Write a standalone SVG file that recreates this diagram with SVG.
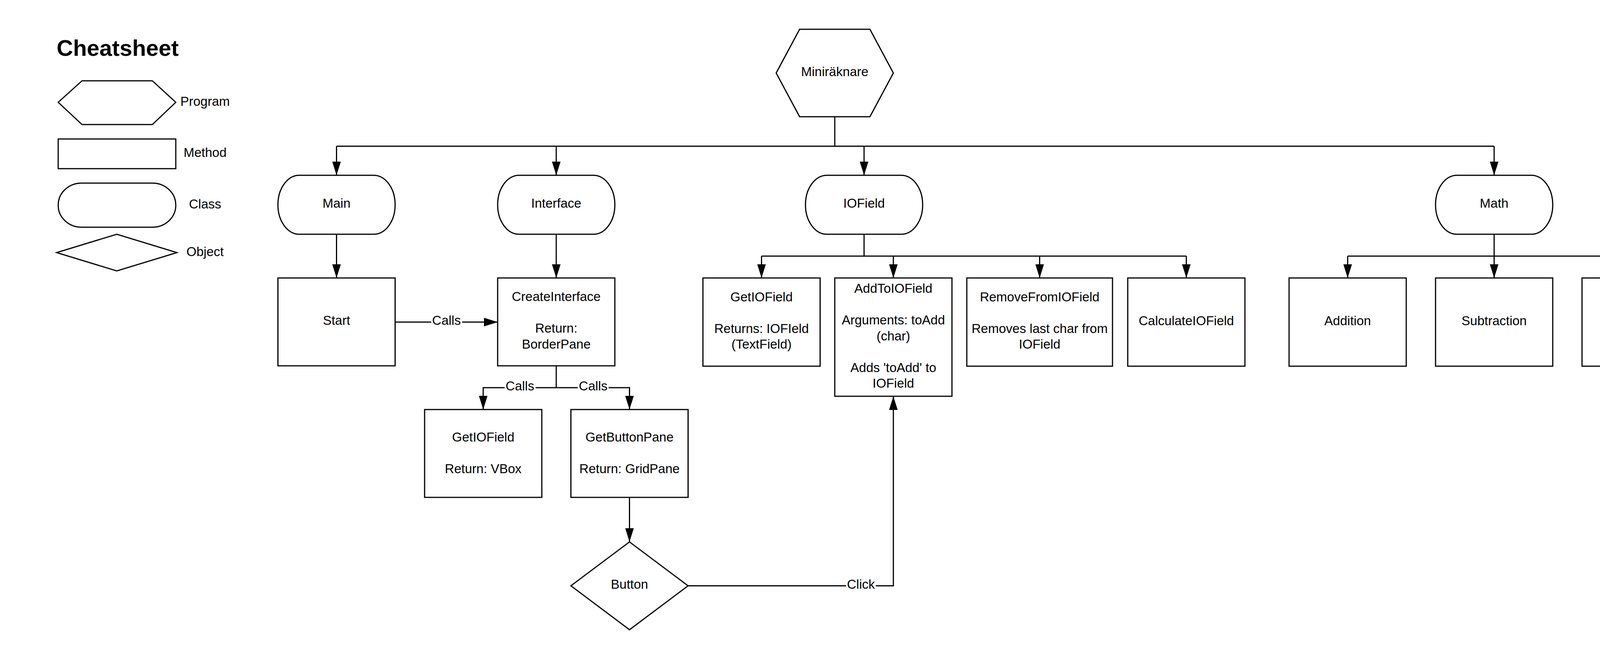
<svg xmlns="http://www.w3.org/2000/svg" width="5175" height="1688" viewBox="0 0 5175 1688">
<style>
.s{fill:#fff;stroke:#000;stroke-width:3}
.c{fill:none;stroke:#000;stroke-width:3}
text{font-family:"Liberation Sans",Arial,sans-serif;font-size:33px;fill:#000}
.m{text-anchor:middle}
.t{font-size:58px;font-weight:bold}
.bg{fill:#fff;stroke:none}
</style>
<defs>
<marker id="ah" markerUnits="userSpaceOnUse" markerWidth="36" markerHeight="22" refX="35" refY="11" orient="auto">
<path d="M0,0 L35,11 L0,22 z" fill="#000"/>
</marker>
</defs>
<rect width="5175" height="1688" fill="#fff"/>

<g id="legend">
<text class="t" x="145" y="143">Cheatsheet</text>
<polygon class="s" points="149,262 210,207 390,207 450,262 390,319 210,319"/>
<text class="m" x="525" y="271">Program</text>
<rect class="s" x="149" y="356" width="301" height="76"/>
<text class="m" x="525" y="402">Method</text>
<rect class="s" x="149" y="469" width="301" height="113" rx="60" ry="56"/>
<text class="m" x="525" y="534">Class</text>
<polygon class="s" points="145,647 299,600 453,647 299,694"/>
<text class="m" x="525" y="656">Object</text>
</g>

<g id="connectors">
<path class="c" d="M2137,299 V374.5"/>
<path class="c" d="M861.5,374.5 H3825"/>
<path class="c" d="M861.5,374.5 V449" marker-end="url(#ah)"/>
<path class="c" d="M1424,374.5 V449" marker-end="url(#ah)"/>
<path class="c" d="M2212,374.5 V449" marker-end="url(#ah)"/>
<path class="c" d="M3825,374.5 V449" marker-end="url(#ah)"/>
<path class="c" d="M861.5,600 V712" marker-end="url(#ah)"/>
<path class="c" d="M1424,600 V712" marker-end="url(#ah)"/>
<path class="c" d="M1011.5,825 H1274" marker-end="url(#ah)"/>
<rect class="bg" x="1104" y="806" width="79" height="36"/>
<text class="m" x="1143" y="832">Calls</text>
<path class="c" d="M1424,937 V993"/>
<path class="c" d="M1424,993 H1237 V1049" marker-end="url(#ah)"/>
<path class="c" d="M1424,993 H1611.5 V1049" marker-end="url(#ah)"/>
<rect class="bg" x="1292" y="974" width="79" height="36"/>
<text class="m" x="1331" y="1000">Calls</text>
<rect class="bg" x="1479" y="974" width="79" height="36"/>
<text class="m" x="1518.5" y="1000">Calls</text>
<path class="c" d="M1611.5,1274 V1388" marker-end="url(#ah)"/>
<path class="c" d="M1761.5,1500.5 H2287 V1015" marker-end="url(#ah)"/>
<rect class="bg" x="2166" y="1482" width="76" height="36"/>
<text class="m" x="2204" y="1508">Click</text>
<path class="c" d="M2212,600 V656"/>
<path class="c" d="M1949.5,656 H3037"/>
<path class="c" d="M1949.5,656 V712" marker-end="url(#ah)"/>
<path class="c" d="M2287,656 V712" marker-end="url(#ah)"/>
<path class="c" d="M2661.5,656 V712" marker-end="url(#ah)"/>
<path class="c" d="M3037,656 V712" marker-end="url(#ah)"/>
<path class="c" d="M3825,600 V656"/>
<path class="c" d="M3450,656 H4950"/>
<path class="c" d="M3450,656 V712" marker-end="url(#ah)"/>
<path class="c" d="M3825,656 V712" marker-end="url(#ah)"/>
<path class="c" d="M4200,656 V712" marker-end="url(#ah)"/>
<path class="c" d="M4575,656 V712" marker-end="url(#ah)"/>
<path class="c" d="M4950,656 V712" marker-end="url(#ah)"/>
</g>

<g id="miniraknare">
<polygon class="s" points="1987,187 2047,75 2227,75 2287,187 2227,299 2047,299"/>
<text class="m" x="2137" y="195">Miniräknare</text>
</g>

<g id="main">
<rect class="s" x="711.5" y="449" width="300" height="151" rx="55" ry="75"/>
<text class="m" x="861.5" y="532">Main</text>
</g>
<g id="interface">
<rect class="s" x="1274" y="449" width="300" height="151" rx="55" ry="75"/>
<text class="m" x="1424" y="532">Interface</text>
</g>
<g id="iofield">
<rect class="s" x="2062" y="449" width="300" height="151" rx="55" ry="75"/>
<text class="m" x="2212" y="532">IOField</text>
</g>
<g id="math">
<rect class="s" x="3675" y="449" width="300" height="151" rx="55" ry="75"/>
<text class="m" x="3825" y="532">Math</text>
</g>

<g id="start">
<rect class="s" x="711.5" y="712" width="300" height="225"/>
<text class="m" x="861.5" y="832">Start</text>
</g>
<g id="createinterface">
<rect class="s" x="1274" y="712" width="300" height="225"/>
<text class="m" x="1424" y="771">CreateInterface</text>
<text class="m" x="1424" y="852">Return:</text>
<text class="m" x="1424" y="893">BorderPane</text>
</g>
<g id="getiofield-interface">
<rect class="s" x="1087" y="1049" width="300" height="225"/>
<text class="m" x="1237" y="1131">GetIOField</text>
<text class="m" x="1237" y="1212">Return: VBox</text>
</g>
<g id="getbuttonpane">
<rect class="s" x="1461.5" y="1049" width="300" height="225"/>
<text class="m" x="1611.5" y="1131">GetButtonPane</text>
<text class="m" x="1611.5" y="1212">Return: GridPane</text>
</g>
<g id="button">
<polygon class="s" points="1461.5,1500.5 1611.5,1388 1761.5,1500.5 1611.5,1613"/>
<text class="m" x="1611.5" y="1508">Button</text>
</g>

<g id="getiofield">
<rect class="s" x="1799.5" y="712" width="300" height="226"/>
<text class="m" x="1949.5" y="772">GetIOField</text>
<text class="m" x="1949.5" y="853">Returns: IOFIeld</text>
<text class="m" x="1949.5" y="893">(TextField)</text>
</g>
<g id="addtoiofield">
<rect class="s" x="2137" y="712" width="300" height="303"/>
<text class="m" x="2287" y="750">AddToIOField</text>
<text class="m" x="2287" y="831">Arguments: toAdd</text>
<text class="m" x="2287" y="872">(char)</text>
<text class="m" x="2287" y="953">Adds 'toAdd' to</text>
<text class="m" x="2287" y="993">IOField</text>
</g>
<g id="removefromiofield">
<rect class="s" x="2475" y="712" width="373" height="226"/>
<text class="m" x="2661.5" y="772">RemoveFromIOField</text>
<text class="m" x="2661.5" y="853">Removes last char from</text>
<text class="m" x="2661.5" y="893">IOField</text>
</g>
<g id="calculateiofield">
<rect class="s" x="2887" y="712" width="300" height="226"/>
<text class="m" x="3037" y="833">CalculateIOField</text>
</g>

<g id="addition">
<rect class="s" x="3300" y="712" width="300" height="226"/>
<text class="m" x="3450" y="833">Addition</text>
</g>
<g id="subtraction">
<rect class="s" x="3675" y="712" width="300" height="226"/>
<text class="m" x="3825" y="833">Subtraction</text>
</g>
<g id="multiplication">
<rect class="s" x="4050" y="712" width="300" height="226"/>
<text class="m" x="4200" y="833">Multiplication</text>
</g>
<g id="modulus">
<rect class="s" x="4425" y="712" width="300" height="226"/>
<text class="m" x="4575" y="833">Modulus</text>
</g>
<g id="squareroot">
<rect class="s" x="4800" y="712" width="300" height="226"/>
<text class="m" x="4950" y="833">SquareRoot</text>
</g>
</svg>
